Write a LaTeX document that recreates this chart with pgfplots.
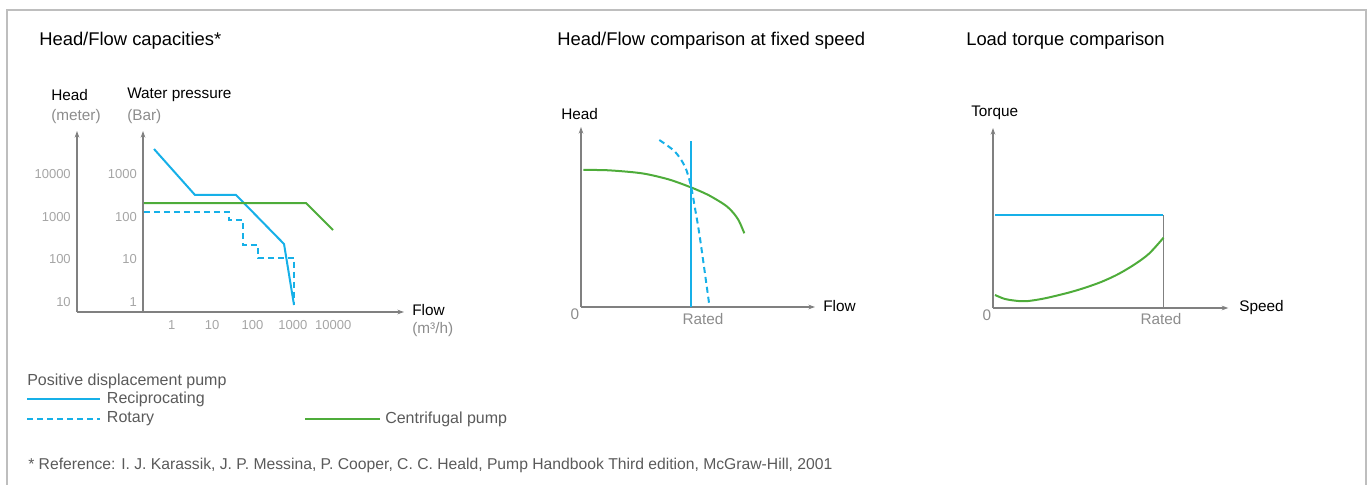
\documentclass[border=0pt]{standalone}
\usepackage{fontspec}
\setmainfont{Liberation Sans}
\usepackage{pgfplots}
\pgfplotsset{compat=1.18}
\usetikzlibrary{arrows.meta}

\definecolor{pcyan}{RGB}{22,176,232}
\definecolor{pgreen}{RGB}{78,172,58}
\definecolor{axgray}{RGB}{128,128,128}
\definecolor{tickgray}{RGB}{165,165,165}
\definecolor{labgray}{RGB}{140,140,140}
\definecolor{txtgray}{RGB}{90,90,90}
\definecolor{framegray}{RGB}{190,190,190}

\pgfplotsset{
  sketch/.style={
    scale only axis, clip=false,
    axis lines=left,
    axis line style={draw=axgray, line width=0.9pt, -{Stealth[length=5pt,width=3.5pt]}},
    major tick length=0pt,
    tick style={draw=none},
    tick label style={font=\fontsize{9.75}{11}\selectfont, text=tickgray},
    /pgf/number format/assume math mode=true,
  },
}
\tikzset{
  recip/.style={pcyan, line width=1.5pt},
  rotary/.style={pcyan, line width=1.5pt, dash pattern=on 4.5pt off 3pt},
  centri/.style={pgreen, line width=1.5pt},
  plab/.style={anchor=east, inner sep=0pt, text=tickgray, font=\fontsize{9.75}{11}\selectfont, xshift=-4.5pt},
}
\newcommand\ttl{\fontsize{13.8}{16}\selectfont}
\newcommand\lab{\fontsize{11.5}{14}\selectfont}
\newcommand\leg{\fontsize{12}{14}\selectfont}

\begin{document}
\begin{tikzpicture}[x=0.75pt,y=0.75pt]
\useasboundingbox (0,0) rectangle (1371,485);
\draw[framegray, line width=1.5pt] (7,-5) -- (7,475) -- (1366,475) -- (1366,-5);

% titles
\node[anchor=west, inner sep=0pt, font=\ttl] at (39,444) {Head/Flow capacities*};
\node[anchor=west, inner sep=0pt, font=\ttl] at (557,444) {Head/Flow comparison at fixed speed};
\node[anchor=west, inner sep=0pt, font=\ttl] at (966,444) {Load torque comparison};

% ---- chart 1: head/flow capacities (log-log)
\begin{axis}[sketch,
  at={(57.75pt,129.75pt)}, anchor=south west,
  width=245.25pt, height=135.75pt,
  xmode=log, ymode=log,
  xmin=0.00453, xmax=562000, ymin=0.583, ymax=10110,
  xtick={1,10,100,1000,10000}, xticklabels={1,10,100,1000,10000},
  ytick={1,10,100,1000}, yticklabels={10,100,1000,10000},
  xticklabel style={anchor=north, inner sep=0pt, yshift=-6.2pt},
  yticklabel style={anchor=east, inner sep=0pt, xshift=-4.5pt},
]
\draw[draw=axgray, line width=0.9pt, -{Stealth[length=5pt,width=3.5pt]}]
  (axis cs:0.195,0.583) -- (axis cs:0.195,10110);
\node[plab] at (axis cs:0.195,1) {1};
\node[plab] at (axis cs:0.195,10) {10};
\node[plab] at (axis cs:0.195,100) {100};
\node[plab] at (axis cs:0.195,1000) {1000};
% reciprocating
\addplot[recip] coordinates {(0.365,3830) (3.77,321) (39.1,321) (603,22.8) (1065,0.85)};
% rotary
\addplot[rotary] coordinates {(0.206,128) (26.2,128) (26.2,83.2) (58.2,83.2) (58.2,21.6)
  (137,21.6) (137,10.7) (1084,10.7) (1084,0.85)};
% centrifugal
\addplot[centri] coordinates {(0.206,208) (2110,208) (9840,48.5)};
\end{axis}
\node[anchor=west, inner sep=0pt, font=\lab] at (51,390) {Head};
\node[anchor=west, inner sep=0pt, font=\lab, text=labgray] at (51,368) {(meter)};
\node[anchor=west, inner sep=0pt, font=\lab] at (127,390) {Water pressure};
\node[anchor=west, inner sep=0pt, font=\lab, text=labgray] at (127,368) {(Bar)};
\node[anchor=west, inner sep=0pt, font=\lab] at (412,175) {Flow};
\node[anchor=west, inner sep=0pt, font=\lab, text=labgray] at (412,155) {(m³/h)};

% ---- chart 2: head/flow at fixed speed
\begin{axis}[sketch,
  at={(435.75pt,133.5pt)}, anchor=south west,
  width=175.5pt, height=135pt,
  xmin=0, xmax=234, ymin=0, ymax=180,
  xtick=\empty, ytick=\empty,
]
\addplot[centri, smooth] coordinates {(2.3,137) (27.3,136.7) (60.7,133.7) (87.3,127.7)
  (109.7,119.7) (127.3,112) (144,102) (152,94.5) (158,86) (163.3,73.7)};
\addplot[recip] coordinates {(110,0) (110,166)};
\addplot[rotary, smooth] coordinates {(78.3,167) (94,155.3) (104,140.3) (109.7,122)
  (114,98.7) (119,68.7) (128.3,2)};
\end{axis}
\node[anchor=west, inner sep=0pt, font=\lab] at (561,371) {Head};
\node[anchor=west, inner sep=0pt, font=\lab] at (823,179) {Flow};
\node[inner sep=0pt, font=\lab, text=labgray] at (575,171) {0};
\node[inner sep=0pt, font=\lab, text=labgray] at (703,166) {Rated};

% ---- chart 3: load torque
\begin{axis}[sketch,
  at={(744.75pt,132.75pt)}, anchor=south west,
  width=176.25pt, height=135pt,
  xmin=0, xmax=235, ymin=0, ymax=180,
  xtick=\empty, ytick=\empty,
]
\addplot[axgray, line width=0.6pt] coordinates {(170,0) (170,93)};
\addplot[recip] coordinates {(2,93) (170,93)};
\addplot[centri, smooth] coordinates {(2,13) (12,9) (25.3,7) (35.3,7) (52,9.7) (75.3,15.3)
  (92,20.3) (108.7,26.3) (125.3,34) (142,44) (156,54.5) (170.3,70.3)};
\end{axis}
\node[anchor=west, inner sep=0pt, font=\lab] at (971,372) {Torque};
\node[anchor=west, inner sep=0pt, font=\lab] at (1239,177) {Speed};
\node[inner sep=0pt, font=\lab, text=labgray] at (987,170) {0};
\node[inner sep=0pt, font=\lab, text=labgray] at (1161,166) {Rated};

% ---- legend
\node[anchor=west, inner sep=0pt, font=\leg, text=txtgray] at (27,103.3) {Positive displacement pump};
\draw[recip] (27,86) -- (100,86);
\node[anchor=west, inner sep=0pt, font=\leg, text=txtgray] at (106.7,86) {Reciprocating};
\draw[rotary] (27,66) -- (100,66);
\node[anchor=west, inner sep=0pt, font=\leg, text=txtgray] at (106.7,66) {Rotary};
\draw[centri] (305,66) -- (380,66);
\node[anchor=west, inner sep=0pt, font=\leg, text=txtgray] at (385,66) {Centrifugal pump};

% ---- footnote
\node[anchor=west, inner sep=0pt, font=\fontsize{11.77}{14}\selectfont, text=txtgray] at (28,20)
  {* Reference: I. J. Karassik, J. P. Messina, P. Cooper, C. C. Heald, Pump Handbook Third edition, McGraw-Hill, 2001};
\end{tikzpicture}
\end{document}
